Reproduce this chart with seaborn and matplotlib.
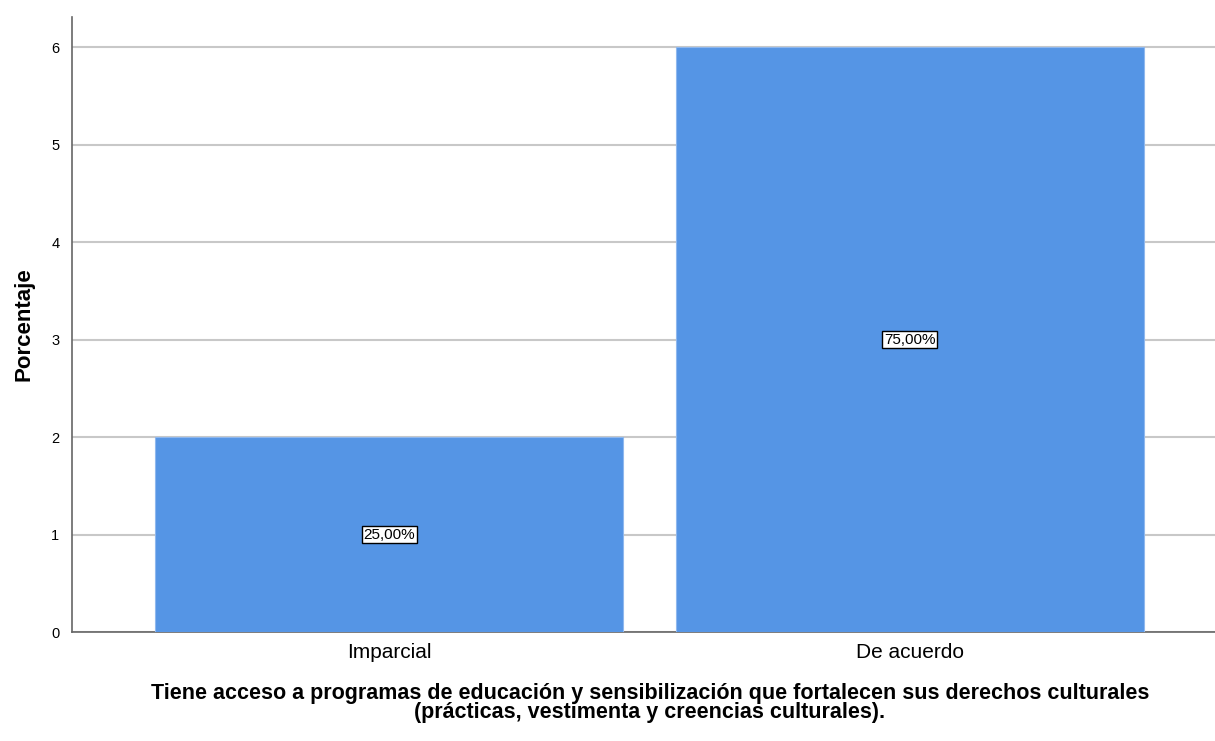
import matplotlib
matplotlib.use("Agg")
import matplotlib.pyplot as plt
import seaborn as sns
import pandas as pd

# Data
categories = ["Imparcial", "De acuerdo"]
counts = [2, 6]
pct_labels = ["25,00%", "75,00%"]

df = pd.DataFrame({"cat": categories, "val": counts})

sns.set_style("white")
plt.rcParams["font.family"] = ["Liberation Sans", "DejaVu Sans"]
plt.rcParams["text.color"] = "black"
plt.rcParams["axes.labelcolor"] = "black"
plt.rcParams["xtick.color"] = "black"
plt.rcParams["ytick.color"] = "black"

fig = plt.figure(figsize=(12.15, 7.41), dpi=100)
ax = fig.add_axes([72 / 1215, 1 - 632 / 741, 1155 / 1215, (632 - 17) / 741])

sns.barplot(data=df, x="cat", y="val", color="#5595E5", saturation=1,
            width=0.9, edgecolor="#8FB8EE", linewidth=0.8, ax=ax, zorder=3)

ax.set_xlim(-0.61, 1.61)
ax.set_ylim(0, 6.31)
ax.set_yticks(range(0, 7))
ax.yaxis.grid(True, color="#c8c8c8", linewidth=1.5, zorder=0)
ax.set_axisbelow(True)

for i, (v, lab) in enumerate(zip(counts, pct_labels)):
    ax.text(i, v / 2, lab, ha="center", va="center", fontsize=11, zorder=5,
            bbox=dict(boxstyle="square,pad=0.12", facecolor="white",
                      edgecolor="black", linewidth=1.0))

ax.tick_params(axis="y", length=0, labelsize=10.5, pad=9)
ax.tick_params(axis="x", length=0, labelsize=15, pad=8)

for s in ["top", "right"]:
    ax.spines[s].set_visible(False)
for s in ["left", "bottom"]:
    ax.spines[s].set_color("#666666")
    ax.spines[s].set_linewidth(1.2)

ax.set_ylabel("Porcentaje", fontsize=16, fontweight="bold", labelpad=12)
ax.set_xlabel("")
fig.text(650 / 1215, 1 - 703 / 741,
         "Tiene acceso a programas de educación y sensibilización que fortalecen sus derechos culturales\n"
         "(prácticas, vestimenta y creencias culturales).",
         ha="center", va="center", fontsize=15.5, fontweight="bold", linespacing=0.92)

plt.savefig("out.png", dpi=100)
